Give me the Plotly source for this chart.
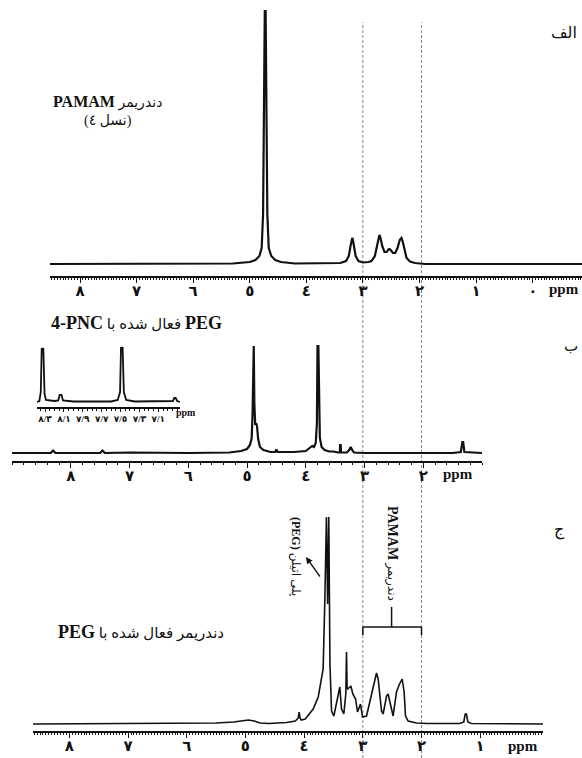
import plotly.graph_objects as go

W, H = 582, 758

# ---------------- data ----------------
# Panel A: PAMAM dendrimer (G4)
a_ppm = [8.53, 5.3, 5.0, 4.9, 4.83, 4.79, 4.765, 4.75, 4.735, 4.72, 4.705, 4.69, 4.665, 4.62, 4.55, 4.45, 4.2,
         3.6, 3.40, 3.30, 3.25, 3.22, 3.20, 3.19, 3.18, 3.16, 3.13, 3.08, 3.0, 2.9,
         2.85, 2.79, 2.75, 2.73, 2.71, 2.69, 2.66, 2.62, 2.58, 2.55, 2.53, 2.51, 2.47, 2.43,
         2.39, 2.35, 2.33, 2.32, 2.30, 2.27, 2.23, 2.17, 2.08, 1.9, -0.87]
a_int = [0, 0.5, 2, 4, 8, 16, 50, 150, 253, 253, 150, 50, 16, 8, 4, 2, 0.5,
         0.5, 1, 3, 8, 18, 25, 26, 25, 18, 8, 3, 1.5, 2,
         3, 8, 18, 26, 29, 26, 18, 12, 12, 14.5, 15, 14, 11, 11,
         16, 24, 26, 26, 23, 14, 6, 2.5, 1, 0, 0]

# Panel B: PEG activated with 4-PNC
b_ppm = [9.0, 8.34, 8.3, 8.26, 7.5, 7.46, 7.42, 7.0, 6.0, 5.3, 5.1, 5.0, 4.95, 4.92, 4.905, 4.895, 4.885,
         4.875, 4.86, 4.845, 4.83, 4.81, 4.78, 4.72, 4.6, 4.52, 4.50, 4.48, 4.2, 4.0, 3.92, 3.89, 3.86,
         3.83, 3.81, 3.80, 3.785, 3.775, 3.76, 3.73, 3.68, 3.6, 3.53, 3.45, 3.42, 3.415, 3.405, 3.40,
         3.30, 3.26, 3.235, 3.21, 3.18, 3.0, 1.5, 1.36, 1.335, 1.32, 1.30, 1.0]
b_int = [0, 0, 2.5, 0, 0, 2.5, 0, 0.5, 0, 0.5, 2, 4, 8, 15, 40, 107, 107,
         50, 28, 30, 27, 14, 6, 3, 1, 1, 3.5, 1, 1, 2, 5, 7, 6,
         10, 30, 107, 107, 40, 15, 6, 3, 1.5, 1.5, 0.5, 0.5, 8, 8, 0.5,
         0.5, 3, 6, 3, 0.5, 0, 0, 1, 11, 11, 1, 0]

# Panel B inset (aromatic region)
i_ppm = [8.385, 8.36, 8.345, 8.335, 8.325, 8.318, 8.305, 8.29, 8.2, 8.16, 8.145, 8.125, 8.11, 8.0,
         7.6, 7.53, 7.505, 7.495, 7.485, 7.478, 7.465, 7.44, 7.35, 7.0, 6.945, 6.93, 6.915, 6.9, 6.87]
i_int = [0, 1, 10, 54, 50, 54, 8, 2, 1, 1.5, 7, 7, 1.5, 0.5,
         0.5, 2, 10, 55, 52, 55, 10, 2, 0.5, 0.5, 1, 4, 4, 1, 0]
i_tickvals = [8.3, 8.1, 7.9, 7.7, 7.5, 7.3, 7.1]
i_ticktext = ["٨/٣", "٨/١", "٧/٩", "٧/٧", "٧/٥", "٧/٣", "٧/١"]

# Panel C: dendrimer activated with PEG
c_ppm = [8.62, 7.0, 6.0, 5.5, 5.2, 5.05, 4.95, 4.85, 4.75, 4.6, 4.3, 4.15, 4.1, 4.085, 4.07, 4.05, 3.98,
         3.954, 3.846, 3.76, 3.70, 3.676, 3.647, 3.62, 3.60, 3.58, 3.56, 3.55, 3.533, 3.494, 3.392,
         3.363, 3.324, 3.29, 3.278, 3.268, 3.256, 3.204, 3.17, 3.124, 3.09, 3.04, 3.005, 2.937, 2.825,
         2.767, 2.739, 2.681, 2.654, 2.596, 2.569, 2.528, 2.484, 2.426, 2.382, 2.330, 2.296, 2.273,
         2.228, 2.085, 1.9, 1.35, 1.28, 1.255, 1.235, 1.21, 1.15, -0.07]
c_int = [0, 0.5, 0.5, 1, 2, 3.5, 4, 3, 1, 0.5, 1.5, 3, 6, 12, 6, 4, 5,
         7, 15, 27, 45, 55, 125, 207, 120, 207, 60, 40, 13, 8, 37,
         15, 10, 30, 72, 36, 35, 38, 30, 25, 12, 20, 7, 8, 35,
         51, 45, 13, 10, 28, 30, 18, 8, 32, 39, 45, 32, 8,
         3, 1, 0.5, 0.5, 2, 10, 10, 2, 0.5, 0]

main_ticks = [8, 7, 6, 5, 4, 3, 2, 1, 0]
main_ticktext = ["٨", "٧", "٦", "٥", "٤", "٣", "٢", "١", "٠"]
guide_ppm = [3, 2]

# ---------------- helpers ----------------
def px(x):
    return x / W

def py(y):
    return 1 - y / H

SERIF = "Liberation Serif, DejaVu Sans"

fig = go.Figure()
fig.add_trace(go.Scatter(x=a_ppm, y=a_int, mode="lines", line=dict(color="#111", width=2.2),
                         xaxis="x", yaxis="y", hoverinfo="skip"))
fig.add_trace(go.Scatter(x=b_ppm, y=b_int, mode="lines", line=dict(color="#111", width=2.2),
                         xaxis="x2", yaxis="y2", hoverinfo="skip"))
fig.add_trace(go.Scatter(x=i_ppm, y=i_int, mode="lines", line=dict(color="#111", width=1.8),
                         xaxis="x3", yaxis="y3", hoverinfo="skip"))
fig.add_trace(go.Scatter(x=c_ppm, y=c_int, mode="lines", line=dict(color="#111", width=1.6),
                         xaxis="x4", yaxis="y4", hoverinfo="skip"))

def xax(domain, rng, tv, tt, minor_dt, fsize=15, ticklen=5, standoff=-5):
    return dict(domain=domain, range=rng, showgrid=False, zeroline=False, showline=True,
                linecolor="#111", linewidth=1.6, ticks="outside", ticklen=ticklen, tickwidth=1.3,
                tickcolor="#111", tickvals=tv, ticktext=tt, ticklabelstandoff=standoff,
                tickfont=dict(family=SERIF, size=fsize, color="#111", weight="bold"),
                minor=dict(dtick=minor_dt, ticks="outside", ticklen=2.5, tickwidth=1, tickcolor="#111"),
                fixedrange=True)

def yax(domain, rng, anchor):
    return dict(domain=domain, range=rng, visible=False, fixedrange=True, anchor=anchor)

fig.update_layout(
    width=W, height=H, margin=dict(l=0, r=0, t=0, b=0),
    paper_bgcolor="white", plot_bgcolor="rgba(0,0,0,0)", showlegend=False,
    xaxis=dict(xax([px(50), 1.0], [8.53, -0.87], main_ticks, main_ticktext, 0.05), anchor="y"),
    yaxis=yax([py(276), py(8)], [-12, 256], "x"),
    xaxis2=dict(xax([px(12), px(482)], [9.0, 1.0], main_ticks[:7], main_ticktext[:7], 0.2), anchor="y2"),
    yaxis2=yax([py(461), py(330)], [-8, 123], "x2"),
    xaxis3=dict(xax([px(37), px(180)], [8.385, 6.87], i_tickvals, i_ticktext, 0.05, fsize=9, ticklen=3,
                    standoff=-1), anchor="y3"),
    yaxis3=yax([py(407), py(340)], [-5, 62], "x3"),
    xaxis4=dict(xax([px(33), px(543)], [8.62, -0.07], main_ticks[:8], main_ticktext[:8], 0.05), anchor="y4"),
    yaxis4=yax([py(731), py(505)], [-7, 219], "x4"),
)

# dashed guide lines at 3 and 2 ppm through all panels
for g in guide_ppm:
    fig.add_shape(type="line", xref="x4", yref="paper", x0=g, x1=g, y0=0, y1=py(22),
                  line=dict(color="#888", width=1, dash="3px,2px"), layer="below")

# PAMAM bracket in panel C
fig.add_shape(type="line", xref="x4", yref="y4", x0=3.0, x1=2.0, y0=97, y1=97,
              line=dict(color="#111", width=1.5))
for e in guide_ppm:
    fig.add_shape(type="line", xref="x4", yref="y4", x0=e, x1=e, y0=97, y1=89,
                  line=dict(color="#111", width=1.5))
fig.add_shape(type="line", xref="x4", yref="y4", x0=2.51, x1=2.51, y0=97, y1=117,
              line=dict(color="#111", width=1.5))

ann = []
def txt(x, y, s, size=12, angle=0, xanchor="center"):
    ann.append(dict(x=px(x), y=py(y), xref="paper", yref="paper", text=s, showarrow=False,
                    textangle=angle, xanchor=xanchor, yanchor="middle",
                    font=dict(family=SERIF, size=size, color="#111")))

# panel letters
txt(579, 32, "الف", 16, xanchor="right")
txt(580, 346, "ب", 15, xanchor="right")
txt(567, 530, "ج", 16, xanchor="right")

# panel A labels
txt(107, 102, "<b><span style='font-size:16px'>PAMAM</span></b> دندریمر", 14)
txt(108, 121, "(نسل ٤)", 14)
txt(564, 289, "<b>ppm</b>", 15)

# panel B labels
txt(136, 323, "<b><span style='font-size:18px'>4-PNC</span></b> فعال شده با "
              "<b><span style='font-size:18px'>PEG</span></b>", 15)
txt(458, 474, "<b>ppm</b>", 15)
txt(186, 412, "<b>ppm</b>", 10)

# panel C labels
txt(141, 632, "<b><span style='font-size:18px'>PEG</span></b> دندریمر فعال شده با", 15)
txt(523, 746, "<b>ppm</b>", 15)
txt(392, 553, "<b><span style='font-size:14px'>PAMAM</span></b> دندریمر", 12, angle=90)
txt(296, 556, "<b>(PEG)</b> پلی اتیلن", 12, angle=90)

# arrow pointing to the PEG label
ann.append(dict(x=px(306), y=py(557), xref="paper", yref="paper", text="", showarrow=True,
                ax=15, ay=21, axref="pixel", ayref="pixel", arrowhead=2, arrowsize=1,
                arrowwidth=1.3, arrowcolor="#111"))

fig.update_layout(annotations=ann)
fig.write_html("out.html", config={"displayModeBar": False},
               post_script="document.body.style.margin='0px';document.body.style.overflow='hidden';")
